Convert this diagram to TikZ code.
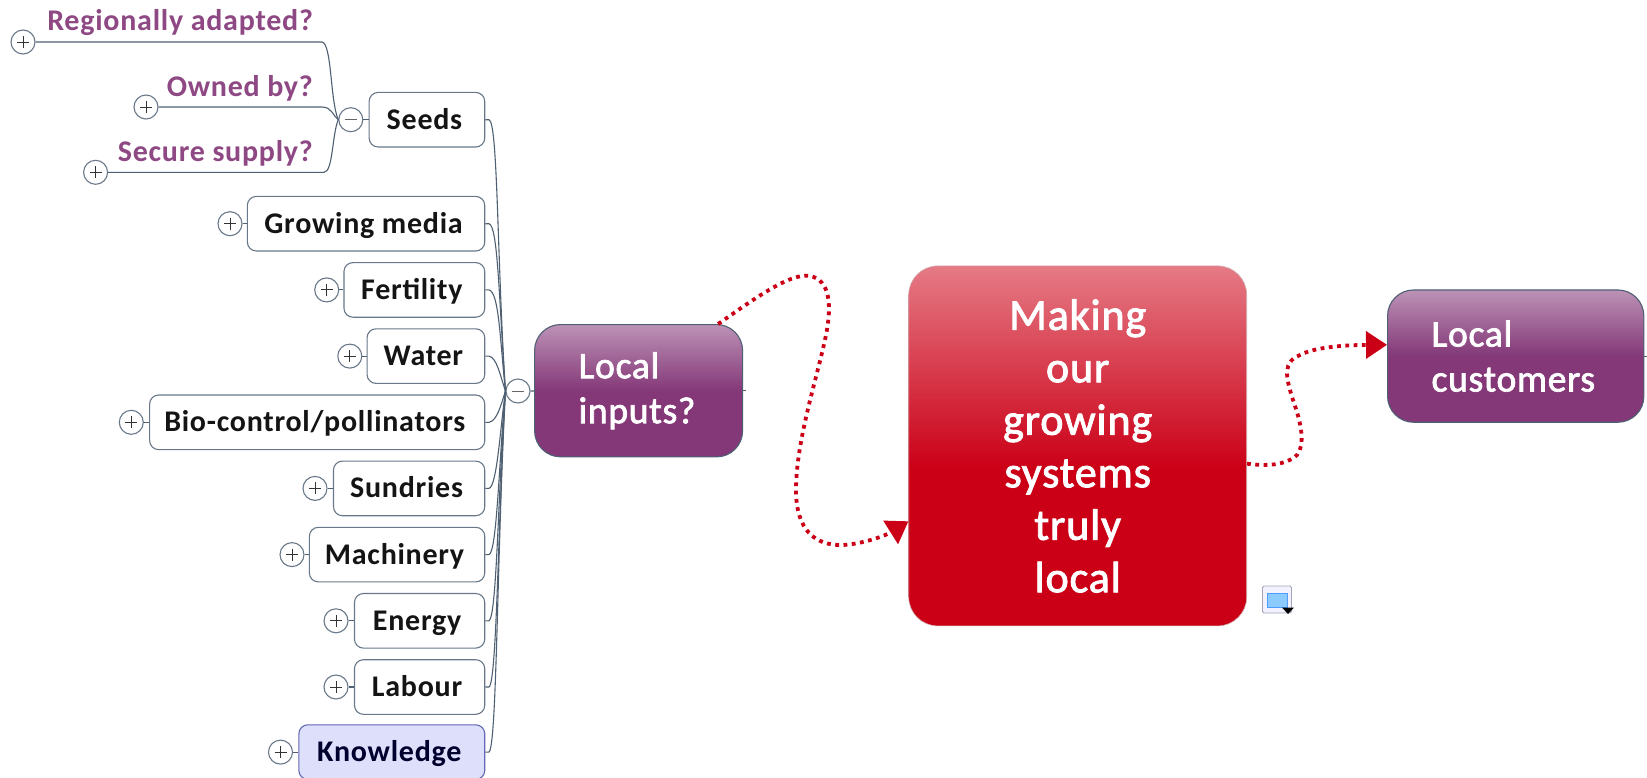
\documentclass[tikz,border=0pt]{standalone}
\usepackage{fontspec}
\setmainfont{Carlito}
\newfontfamily\topicfont[LetterSpace=2.5]{Carlito Bold}
\newfontfamily\medfont[FakeBold=2,LetterSpace=2]{Carlito}
\usetikzlibrary{arrows.meta}
\definecolor{linec}{HTML}{4F6073}
\definecolor{plum}{HTML}{843878}
\definecolor{plumtop}{HTML}{BC92B6}
\definecolor{redtop}{HTML}{E57A85}
\definecolor{redc}{HTML}{CB0017}
\definecolor{know}{HTML}{DEDFFB}
\definecolor{knowline}{HTML}{6468B4}
\pgfdeclareverticalshading{plumshade}{100bp}{color(0bp)=(plum); color(50bp)=(plum); color(75bp)=(plumtop); color(100bp)=(plumtop)}
\pgfdeclareverticalshading{redshade}{100bp}{color(0bp)=(redc); color(47bp)=(redc); color(75bp)=(redtop); color(100bp)=(redtop)}
\tikzset{
  x=1pt,y=-1pt,
  conn/.style={draw=linec,line width=1.1pt},
  topic/.style={draw=linec!85,line width=1.1pt,fill=white,rounded corners=9pt,anchor=east,minimum height=54.6pt,inner sep=0pt,
    text height=25pt,text depth=6pt,
    font=\fontsize{30}{30}\topicfont,text=black!92,execute at end node={\hspace{5pt}}},
  knowtopic/.style={topic,draw=knowline,fill=know,text=black!70!blue!60!black},
  asks/.style={anchor=base east,inner sep=0pt,font=\fontsize{30}{30}\topicfont,text=plum!92!white},
  mainbox/.style={draw=linec,line width=1.1pt,rounded corners=26pt,shading=plumshade,text=white,align=left,inner xsep=44pt,inner ysep=0pt,minimum height=132.3pt,
    font=\fontsize{37.5}{45}\medfont},
  centerbox/.style={draw=redtop!50!gray!60,line width=0.6pt,rounded corners=29pt,shading=redshade,text=white,align=center,minimum width=338pt,minimum height=360pt,inner sep=0pt,
    font=\fontsize{44}{52.5}\medfont},
  togglebase/.style={circle,draw=linec!85,line width=1.1pt,fill=white,minimum size=24pt,inner sep=0pt},
  plusbtn/.style={togglebase,path picture={\draw[black!80,line width=1pt] (path picture bounding box.center)++(-6,0)--++(12,0) (path picture bounding box.center)++(0,-6)--++(0,12);}},
  minusbtn/.style={togglebase,path picture={\draw[black!60,line width=1pt] (path picture bounding box.center)++(-6,0)--++(12,0);}},
  redlink/.style={draw=redc,line width=3.8pt,dash pattern=on 3.8pt off 4.5pt,-{Triangle[length=21pt,width=27pt,fill=redc]}},
}
\begin{document}
\begin{tikzpicture}
\useasboundingbox (0,0) rectangle (1647,777);
\clip (0,0) rectangle (1647,777);
\fill[white] (0,0) rectangle (1647,777);

% main boxes
\node[mainbox,text width=120pt] (inputs) at (638.6,390.7) {Local\\inputs?};
\node[centerbox] (core) at (1077.7,445.9) {Making\\our\\growing\\systems\\truly\\local};
\node[mainbox,text width=168.3pt] (customers) at (1515.7,356.1) {Local\\customers};

% topics
\node[topic,minimum width=115.6pt] (seeds) at (485.3,119.7) {Seeds};
\node[topic,minimum width=237.4pt] (media) at (485.3,223.7) {Growing media};
\node[topic,minimum width=140.8pt] (fert) at (485.3,289.9) {Fertility};
\node[topic,minimum width=117.7pt] (water) at (485.3,356.1) {Water};
\node[topic,minimum width=335.1pt] (bio) at (485.3,422.3) {Bio-control/pollinators};
\node[topic,minimum width=151.3pt] (sund) at (485.3,488.4) {Sundries};
\node[topic,minimum width=175.4pt] (mach) at (485.3,554.6) {Machinery};
\node[topic,minimum width=130.3pt] (energy) at (485.3,620.8) {Energy};
\node[topic,minimum width=130.3pt] (labour) at (485.3,687) {Labour};
\node[knowtopic,minimum width=185.9pt] (knowl) at (485.3,752.1) {Knowledge};

% toggles
\node[minusbtn] (mm) at (518,391) {};
\node[minusbtn] (ms) at (350.8,119.7) {};
\node[plusbtn] (pr) at (23,42) {};
\node[plusbtn] (po) at (146,107) {};
\node[plusbtn] (pq) at (95.6,172.3) {};
\node[plusbtn] (p1) at (230,223.7) {};
\node[plusbtn] (p2) at (326.7,289.9) {};
\node[plusbtn] (p3) at (349.8,356.1) {};
\node[plusbtn] (p4) at (131.3,422.3) {};
\node[plusbtn] (p5) at (315,488.4) {};
\node[plusbtn] (p6) at (292,554.6) {};
\node[plusbtn] (p7) at (336,620.8) {};
\node[plusbtn] (p8) at (336,687) {};
\node[plusbtn] (p9) at (280.5,752.1) {};

% question labels
\node[asks] (qr) at (313,30.7) {Regionally adapted?};
\node[asks] (qo) at (313,96) {Owned by?};
\node[asks] (qs) at (313,161) {Secure supply?};

% short links
\draw[conn] (p1) -- (media);
\draw[conn] (p2) -- (fert);
\draw[conn] (p3) -- (water);
\draw[conn] (p4) -- (bio);
\draw[conn] (p5) -- (sund);
\draw[conn] (p6) -- (mach);
\draw[conn] (p7) -- (energy);
\draw[conn] (p8) -- (labour);
\draw[conn] (p9) -- (knowl);
\draw[conn] (ms) -- (seeds);
\draw[conn] (mm) -- (inputs);
\coordinate (stubA) at (746,390.7);
\coordinate (stubB) at (1647,356.1);
\draw[conn,line width=0.7pt] (inputs.east) -- (stubA);
\draw[conn,line width=0.7pt] (customers.east) -- (stubB);

% seed branches
\draw[conn] (pr.east) -- (322,42) .. controls (332,44) and (330,100) .. (ms.west);
\draw[conn] (po.east) -- (322,107) .. controls (332,107) and (333,116) .. (ms.west);
\draw[conn] (pq.east) -- (324,172.3) .. controls (333,172) and (332,135) .. (ms.west);

% trunk
\draw[conn] (seeds.east) -- (489,119.7) .. controls (498,122) and (497,260) .. (mm.west);
\draw[conn] (media.east) -- (489,223.7) .. controls (498,226) and (499,300) .. (mm.west);
\draw[conn] (fert.east) -- (489,289.9) .. controls (499,292) and (500,340) .. (mm.west);
\draw[conn] (water.east) -- (489,356.1) .. controls (497,358) and (500,375) .. (mm.west);
\draw[conn] (bio.east) -- (489,422.3) .. controls (497,421) and (501,405) .. (mm.west);
\draw[conn] (sund.east) -- (489,488.4) .. controls (497,486) and (500,430) .. (mm.west);
\draw[conn] (mach.east) -- (489,554.6) .. controls (497,552) and (499,460) .. (mm.west);
\draw[conn] (energy.east) -- (489,620.8) .. controls (497,616) and (498,490) .. (mm.west);
\draw[conn] (labour.east) -- (489,687) .. controls (497,682) and (498,520) .. (mm.west);
\draw[conn] (knowl.east) -- (489,752.1) .. controls (497,746) and (497,550) .. (mm.west);

% dotted relationships
\draw[redlink] (inputs.40.4) .. controls (750,302) and (790,272) .. (810,276)
  .. controls (830,280) and (832,305) .. (826,335)
  .. controls (818,375) and (796,440) .. (796,490)
  .. controls (796,530) and (815,546) .. (843,545)
  .. controls (862,544) and (885,536) .. (core.204.5);
\draw[redlink] (core.-6.4) .. controls (1265,466) and (1285,466) .. (1297,455)
  .. controls (1305,445) and (1302,425) .. (1293,400)
  .. controls (1285,375) and (1283,362) .. (1300,355)
  .. controls (1315,347) and (1345,345) .. (customers.175);

% callout icon
\draw[draw=black!25!blue!20!gray!60,fill=blue!5,rounded corners=1.5pt,line width=0.8pt] (1262.5,586) rectangle (1291.5,613);
\fill[blue!45!cyan!45!white,draw=blue!55!cyan!70,line width=0.7pt] (1267,593) rectangle (1287,607);
\fill[black] (1282,607.5) -- (1294,607.5) -- (1288,614) -- cycle;
\end{tikzpicture}
\end{document}
